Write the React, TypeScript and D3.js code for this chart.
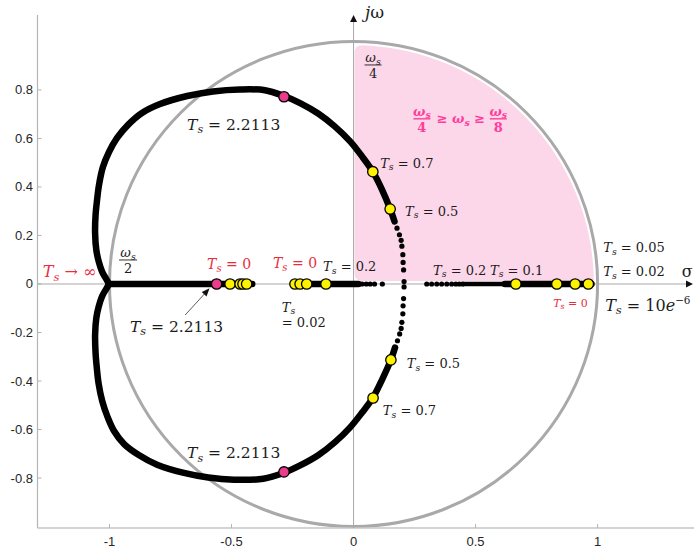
import React from "react";
import * as d3 from "d3";

// ---- data (σ, jω) ----
const X_TICKS = [-1, -0.5, 0, 0.5, 1];
const Y_TICKS = [-0.8, -0.6, -0.4, -0.2, 0, 0.2, 0.4, 0.6, 0.8];

// upper branch of the locus, dense part (from the cusp at -1)
const UPPER_LOCUS: [number, number][] = [
  [-1.002, 0], [-1.012, 0.018], [-1.03, 0.05], [-1.044, 0.092], [-1.054, 0.14],
  [-1.059, 0.21], [-1.057, 0.285], [-1.051, 0.346], [-1.043, 0.408], [-1.027, 0.482],
  [-1.002, 0.544], [-0.969, 0.602], [-0.924, 0.656], [-0.867, 0.705], [-0.793, 0.742],
  [-0.682, 0.775], [-0.576, 0.794], [-0.465, 0.802], [-0.363, 0.799], [-0.285, 0.775],
  [-0.219, 0.746], [-0.145, 0.703], [-0.076, 0.649], [-0.014, 0.588], [0.035, 0.526],
  [0.079, 0.463], [0.117, 0.388], [0.15, 0.309], [0.168, 0.258],
];
const LOWER_LOCUS: [number, number][] = [
  [-1.002, 0], [-1.012, -0.018], [-1.03, -0.05], [-1.044, -0.092], [-1.054, -0.14],
  [-1.059, -0.21], [-1.057, -0.285], [-1.052, -0.346], [-1.045, -0.408], [-1.03, -0.482],
  [-1.008, -0.548], [-0.982, -0.605], [-0.94, -0.66], [-0.88, -0.705], [-0.805, -0.745],
  [-0.695, -0.779], [-0.595, -0.798], [-0.49, -0.807], [-0.37, -0.803], [-0.285, -0.778],
  [-0.219, -0.748], [-0.145, -0.706], [-0.076, -0.652], [-0.014, -0.591], [0.035, -0.53],
  [0.08, -0.468], [0.118, -0.392], [0.153, -0.313], [0.17, -0.262],
];
// sparse samples near the real axis crossing
const UPPER_SPARSE: [number, number][] = [
  [0.178, 0.23], [0.188, 0.203], [0.195, 0.18], [0.198, 0.156], [0.202, 0.121],
  [0.203, 0.089], [0.205, 0.058], [0.207, 0.01],
];
const LOWER_SPARSE: [number, number][] = [
  [0.18, -0.234], [0.189, -0.206], [0.195, -0.183], [0.198, -0.158], [0.202, -0.123],
  [0.203, -0.09], [0.205, -0.06], [0.207, -0.012],
];

// real-axis branches
const AXIS_THICK: [number, number][] = [[-1.0, -0.415], [-0.248, 0.02], [0.62, 0.975]];
const AXIS_THIN: [number, number][] = [[0.45, 0.62]];
const AXIS_SPARSE = [
  0.035, 0.052, 0.068, 0.086, 0.118,
  0.3, 0.32, 0.341, 0.361, 0.382, 0.402, 0.419, 0.433, 0.447,
];

// highlighted sample times
const YELLOW_MARKS: [number, number][] = [
  [-0.506, 0], [-0.465, 0], [-0.453, 0], [-0.438, 0],
  [-0.24, 0], [-0.219, 0], [-0.192, 0], [-0.113, 0],
  [0.665, 0], [0.833, 0], [0.908, 0], [0.962, 0],
  [0.079, 0.463], [0.15, 0.309], [0.08, -0.47], [0.153, -0.313],
];
const PINK_MARKS: [number, number][] = [[-0.561, 0], [-0.285, 0.772], [-0.285, -0.775]];

// Ts annotations
type TsNote = { rest: string; x: number; y: number; size: number; color: string; exp?: string };
const RED = "#ea2d3c";
const INK = "#1c1c1c";
const TS_NOTES: TsNote[] = [
  { rest: "2.2113", x: -0.682, y: 0.635, size: 15.5, color: INK },
  { rest: "0.7", x: 0.109, y: 0.48, size: 13, color: INK },
  { rest: "0.5", x: 0.211, y: 0.282, size: 13, color: INK },
  { rest: "0", x: -0.6, y: 0.062, size: 14, color: RED },
  { rest: "0", x: -0.33, y: 0.066, size: 14, color: RED },
  { rest: "0.2", x: -0.125, y: 0.054, size: 13, color: INK },
  { rest: "2.2113", x: -0.916, y: -0.198, size: 15.5, color: INK },
  { rest: "0.2", x: 0.326, y: 0.039, size: 13, color: INK },
  { rest: "0.1", x: 0.559, y: 0.039, size: 13, color: INK },
  { rest: "0", x: 0.818, y: -0.095, size: 11, color: RED },
  { rest: "0.05", x: 1.023, y: 0.13, size: 13, color: INK },
  { rest: "0.02", x: 1.023, y: 0.033, size: 13, color: INK },
  { rest: "10", exp: "−6", x: 1.031, y: -0.111, size: 16, color: INK },
  { rest: "0.5", x: 0.218, y: -0.346, size: 13, color: INK },
  { rest: "0.7", x: 0.12, y: -0.54, size: 13, color: INK },
  { rest: "2.2113", x: -0.682, y: -0.718, size: 15.5, color: INK },
];

const W = 694;
const H = 549;
const SERIF = "'DejaVu Serif', serif";
const SANS = "'Liberation Sans', Arial, sans-serif";

const x = d3.scaleLinear().domain([-1.295, 1.395]).range([37.5, 694]);
const y = d3.scaleLinear().domain([-1.006, 1.109]).range([528, 15]);

const locusLine = d3
  .line<[number, number]>()
  .x((d) => x(d[0]))
  .y((d) => y(d[1]))
  .curve(d3.curveCatmullRom.alpha(0.5));

function TsText({ n }: { n: TsNote }) {
  const s = n.size;
  return (
    <text x={x(n.x)} y={y(n.y)} fontFamily={SERIF} fontSize={s} fill={n.color}>
      <tspan fontStyle="italic">T</tspan>
      <tspan fontStyle="italic" fontSize={s * 0.72} dy={s * 0.22}>s</tspan>
      <tspan dy={-s * 0.22}>{"\u00A0=\u00A0" + n.rest}</tspan>
      {n.exp ? (
        <>
          <tspan fontStyle="italic">e</tspan>
          <tspan fontSize={s * 0.65} dy={-s * 0.42}>{n.exp}</tspan>
        </>
      ) : null}
    </text>
  );
}

function Omega({ cx, cy, size, color, weight }: { cx: number; cy: number; size: number; color: string; weight?: string }) {
  return (
    <text x={cx} y={cy} textAnchor="middle" fontFamily={SERIF} fontSize={size} fill={color} fontWeight={weight}>
      <tspan fontStyle="italic">ω</tspan>
      <tspan fontStyle="italic" fontSize={size * 0.72} dy={size * 0.2}>s</tspan>
    </text>
  );
}

function Fraction({ cx, bar, den, size, color, weight, w }: { cx: number; bar: number; den: string; size: number; color: string; weight?: string; w: number }) {
  return (
    <g>
      <Omega cx={cx} cy={bar - 3} size={size} color={color} weight={weight} />
      <line x1={cx - w / 2} x2={cx + w / 2} y1={bar} y2={bar} stroke={color} strokeWidth={weight ? 1.4 : 0.9} />
      <text x={cx} y={bar + size * 0.98} textAnchor="middle" fontFamily={SERIF} fontSize={size} fill={color} fontWeight={weight}>
        {den}
      </text>
    </g>
  );
}

export default function App() {
  const cx = x(0);
  const cy = y(0);
  const rx = x(1) - cx;
  const ry = cy - y(1);

  // pink quarter-disk, slightly inset from the unit circle, rounded corners
  const prx = x(0.985) - cx;
  const pry = cy - y(0.985);
  const L = cx + 1;
  const B = cy - 3;
  const rc = 8;
  const topAt = (px: number) => cy - pry * Math.sqrt(1 - ((px - cx) / prx) ** 2);
  const rightX = cx + prx * Math.sqrt(1 - ((cy - B) / pry) ** 2);
  const pinkPath = [
    `M${L},${B - rc}`,
    `L${L},${topAt(L) + rc}`,
    `Q${L},${topAt(L)} ${L + rc},${topAt(L + rc)}`,
    `A${prx},${pry} 0 0 1 ${rightX},${B}`,
    `L${L + rc},${B}`,
    `Q${L},${B} ${L},${B - rc}`,
    "Z",
  ].join(" ");

  const arrowFrom: [number, number] = [x(-0.69), y(-0.128)];
  const arrowTo: [number, number] = [x(-0.59), y(-0.018)];
  const ang = Math.atan2(arrowTo[1] - arrowFrom[1], arrowTo[0] - arrowFrom[0]);
  const ah = 8;
  const aw = 3.2;
  const headPts = [
    arrowTo,
    [arrowTo[0] - ah * Math.cos(ang) + aw * Math.sin(ang), arrowTo[1] - ah * Math.sin(ang) - aw * Math.cos(ang)],
    [arrowTo[0] - ah * Math.cos(ang) - aw * Math.sin(ang), arrowTo[1] - ah * Math.sin(ang) + aw * Math.cos(ang)],
  ]
    .map((p) => p.join(","))
    .join(" ");

  return (
    <svg width={W} height={H} style={{ position: "absolute", left: 0, top: 0, background: "#fff" }}>
      <rect width={W} height={H} fill="#fff" />

      {/* stability-region highlight */}
      <path d={pinkPath} fill="#fcd7e9" />

      {/* unit circle */}
      <ellipse cx={cx} cy={cy} rx={rx} ry={ry} fill="none" stroke="#a9a9a9" strokeWidth={3} />

      {/* frame axes */}
      <line x1={37.5} x2={37.5} y1={15} y2={528} stroke="#b4b4b4" strokeWidth={1.2} />
      <line x1={37.5} x2={W} y1={528} y2={528} stroke="#c4c4c4" strokeWidth={1.6} />
      {Y_TICKS.map((t) => (
        <g key={"y" + t}>
          <line x1={37.5} x2={41.5} y1={y(t)} y2={y(t)} stroke="#b4b4b4" strokeWidth={1} />
          <text x={33} y={y(t) + 4.5} textAnchor="end" fontFamily={SANS} fontSize={13} fill="#262626">
            {t === 0 ? "0" : String(t)}
          </text>
        </g>
      ))}
      {X_TICKS.map((t) => (
        <g key={"x" + t}>
          <line x1={x(t)} x2={x(t)} y1={528} y2={524} stroke="#b4b4b4" strokeWidth={1} />
          <text x={x(t)} y={546} textAnchor="middle" fontFamily={SANS} fontSize={13} fill="#262626">
            {String(t)}
          </text>
        </g>
      ))}

      {/* σ and jω axes */}
      <line x1={37.5} x2={688} y1={cy} y2={cy} stroke="#a8a8a8" strokeWidth={1} />
      <polygon points={`693,${cy} 686,${cy - 3.5} 686,${cy + 3.5}`} fill="#111" />
      <line x1={cx} x2={cx} y1={528} y2={20} stroke="#a8a8a8" strokeWidth={1} />
      <polygon points={`${cx},15 ${cx - 3.5},22 ${cx + 3.5},22`} fill="#111" />

      {/* root locus */}
      {[UPPER_LOCUS, LOWER_LOCUS].map((pts, i) => (
        <path key={"loc" + i} d={locusLine(pts) || ""} fill="none" stroke="#000" strokeWidth={6.5} strokeLinecap="round" strokeLinejoin="round" />
      ))}
      {AXIS_THICK.map((s, i) => (
        <line key={"at" + i} x1={x(s[0])} x2={x(s[1])} y1={cy} y2={cy} stroke="#000" strokeWidth={6.5} strokeLinecap="round" />
      ))}
      {AXIS_THIN.map((s, i) => (
        <line key={"an" + i} x1={x(s[0])} x2={x(s[1])} y1={cy} y2={cy} stroke="#000" strokeWidth={4.5} strokeLinecap="round" />
      ))}
      {[...UPPER_SPARSE, ...LOWER_SPARSE].map((p, i) => (
        <circle key={"sp" + i} cx={x(p[0])} cy={y(p[1])} r={2.6} fill="#000" />
      ))}
      {AXIS_SPARSE.map((v, i) => (
        <circle key={"as" + i} cx={x(v)} cy={cy} r={2.6} fill="#000" />
      ))}

      {/* marked sample times */}
      {YELLOW_MARKS.map((p, i) => (
        <circle key={"ym" + i} cx={x(p[0])} cy={y(p[1])} r={5.2} fill="#fff200" stroke="#000" strokeWidth={1.3} />
      ))}
      {PINK_MARKS.map((p, i) => (
        <circle key={"pm" + i} cx={x(p[0])} cy={y(p[1])} r={5.2} fill="#ea3b8c" stroke="#000" strokeWidth={1.3} />
      ))}

      {/* annotations */}
      {TS_NOTES.map((n, i) => (
        <TsText key={"ts" + i} n={n} />
      ))}
      <text x={x(-0.294)} y={y(-0.114)} fontFamily={SERIF} fontSize={13} fill={INK}>
        <tspan fontStyle="italic">T</tspan>
        <tspan fontStyle="italic" fontSize={13 * 0.72} dy={13 * 0.2}>s</tspan>
      </text>
      <text x={x(-0.294)} y={y(-0.177)} fontFamily={SERIF} fontSize={13} fill={INK}>
        {"=\u00A00.02"}
      </text>

      <text x={x(-1.273)} y={y(0.027)} fontFamily={SERIF} fontSize={16} fill={RED}>
        <tspan fontStyle="italic">T</tspan>
        <tspan fontStyle="italic" fontSize={16 * 0.72} dy={16 * 0.22}>s</tspan>
        <tspan dy={-16 * 0.22}>{"\u00A0→\u00A0∞"}</tspan>
      </text>

      <Fraction cx={x(-0.924)} bar={y(0.099)} den="2" size={13} color={INK} w={18} />
      <Fraction cx={x(0.08)} bar={y(0.903)} den="4" size={13} color={INK} w={17} />

      <Fraction cx={x(0.28)} bar={y(0.681)} den="4" size={13} color="#ff3c9b" weight="bold" w={17} />
      <text x={x(0.44)} y={y(0.681) + 4.5} textAnchor="middle" fontFamily={SERIF} fontSize={13} fill="#ff3c9b" fontWeight="bold">
        <tspan>{"≥\u00A0"}</tspan>
        <tspan fontStyle="italic">ω</tspan>
        <tspan fontStyle="italic" fontSize={13 * 0.72} dy={13 * 0.2}>s</tspan>
        <tspan dy={-13 * 0.2}>{"\u00A0≥"}</tspan>
      </text>
      <Fraction cx={x(0.593)} bar={y(0.681)} den="8" size={13} color="#ff3c9b" weight="bold" w={17} />

      <text x={x(1.367)} y={y(0.029)} textAnchor="middle" fontFamily={SERIF} fontSize={16} fill={INK}>σ</text>
      <text x={x(0.047)} y={y(1.097)} fontFamily={SERIF} fontSize={17} fill={INK}>
        <tspan fontStyle="italic">j</tspan>ω
      </text>

      {/* pointer to the real-axis Ts = 2.2113 sample */}
      <line x1={arrowFrom[0]} y1={arrowFrom[1]} x2={arrowTo[0] - 6 * Math.cos(ang)} y2={arrowTo[1] - 6 * Math.sin(ang)} stroke="#333" strokeWidth={0.8} />
      <polygon points={headPts} fill="#111" />
    </svg>
  );
}
